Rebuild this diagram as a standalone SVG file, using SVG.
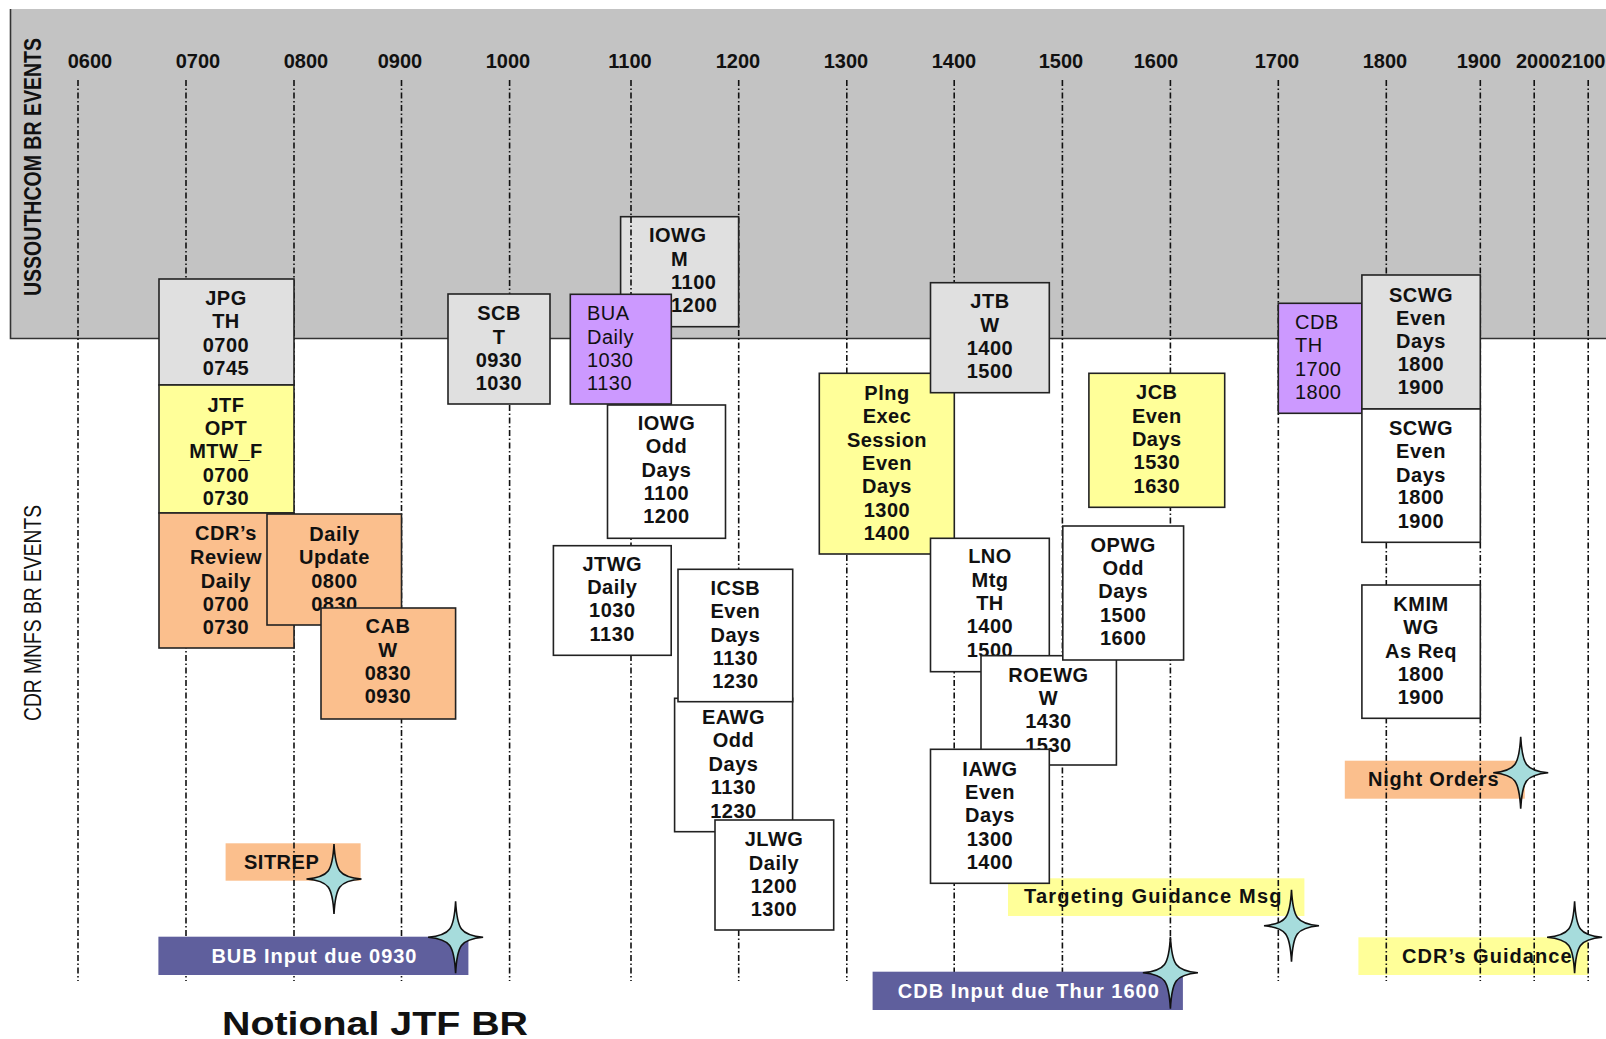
<svg xmlns="http://www.w3.org/2000/svg" width="1606" height="1039" viewBox="0 0 1606 1039">
<defs>
<style>
text{font-family:"Liberation Sans",Arial,sans-serif;fill:#111}
.b{font-weight:bold;font-size:20px;letter-spacing:0.5px;text-anchor:middle}
.bs{font-weight:bold;font-size:20px;letter-spacing:0.5px}
.r{font-size:20px;letter-spacing:0.5px}
.t{font-weight:bold;font-size:20px;text-anchor:middle}
.w{fill:#fff;font-weight:bold;font-size:20px}
.box{stroke:#222;stroke-width:1.6}
.gray{fill:#e0e0e0}
.white{fill:#fff}
.yel{fill:#ffff99}
.org{fill:#fbbf8d}
.pur{fill:#cc99ff}
.blu{fill:#5f5f9d}
.grid{stroke:#111;stroke-width:1.6;stroke-dasharray:6 2.5 1.5 2.5;fill:none}
.side{font-size:23px}
</style>
<path id="star" d="M0,-36 C1.5,-8 5,-2 27.5,0 C5,2 1.5,8 0,36 C-1.5,8 -5,2 -27.5,0 C-5,-2 -1.5,-8 0,-36Z" fill="#a6dcdc" stroke="#111" stroke-width="1.6"/>
</defs>

<g id="band">
<rect x="10" y="9" width="1596" height="329" fill="#c3c3c3"/>
<path d="M10.5,9 V338.5 H1606" fill="none" stroke="#333" stroke-width="1.6"/>
</g>

<g id="side-labels">
<text class="side" font-weight="bold" transform="translate(41,167) rotate(-90)" text-anchor="middle" textLength="258" lengthAdjust="spacingAndGlyphs">USSOUTHCOM  BR EVENTS</text>
<text class="side" transform="translate(41,613) rotate(-90)" text-anchor="middle" textLength="216" lengthAdjust="spacingAndGlyphs">CDR MNFS BR EVENTS</text>
</g>

<g id="time-labels">
<text class="t" x="90" y="68">0600</text>
<text class="t" x="198" y="68">0700</text>
<text class="t" x="306" y="68">0800</text>
<text class="t" x="400" y="68">0900</text>
<text class="t" x="508" y="68">1000</text>
<text class="t" x="630" y="68">1100</text>
<text class="t" x="738" y="68">1200</text>
<text class="t" x="846" y="68">1300</text>
<text class="t" x="954" y="68">1400</text>
<text class="t" x="1061" y="68">1500</text>
<text class="t" x="1156" y="68">1600</text>
<text class="t" x="1277" y="68">1700</text>
<text class="t" x="1385" y="68">1800</text>
<text class="t" x="1479" y="68">1900</text>
<text x="1516" y="68" font-weight="bold" font-size="20">2000</text>
<text x="1561" y="68" font-weight="bold" font-size="20">2100</text>
</g>

<g id="sitrep">
<rect class="org" x="225.6" y="843.3" width="135" height="37.4"/>
<text class="bs" x="244" y="869.3">SITREP</text>
</g>
<g id="targeting">
<rect class="yel" x="1008" y="878.3" width="296.4" height="37.7"/>
<text class="bs" x="1024" y="903.3" textLength="258">Targeting Guidance Msg</text>
</g>
<g id="night-orders">
<rect class="org" x="1344.8" y="760.7" width="180" height="38"/>
<text class="bs" x="1368" y="786" textLength="131">Night Orders</text>
</g>
<g id="cdr-guidance">
<rect class="yel" x="1358.4" y="937.3" width="229.8" height="37.7"/>
<text class="bs" x="1402" y="963.3" textLength="170">CDR’s Guidance</text>
</g>

<g id="connectors">
<path class="grid" d="M78,80V981 M186,80V981 M294,80V981 M401.5,80V981 M509.6,80V981 M631,80V981 M738.7,80V981 M846.8,80V981 M954.2,80V981 M1062.4,80V981 M1170.4,80V981 M1278.3,80V981 M1386.3,80V981 M1480.3,80V981 M1534.2,80V981 M1588.2,80V981"/>
</g>

<g id="jpg">
<rect class="box gray" x="159" y="279" width="135" height="106"/>
<text class="b"><tspan x="226" y="305">JPG</tspan><tspan x="226" y="328">TH</tspan><tspan x="226" y="352">0700</tspan><tspan x="226" y="375">0745</tspan></text>
</g>
<g id="jtf-opt">
<rect class="box yel" x="159" y="385" width="135" height="128"/>
<text class="b"><tspan x="226" y="412">JTF</tspan><tspan x="226" y="435">OPT</tspan><tspan x="226" y="458">MTW_F</tspan><tspan x="226" y="481.5">0700</tspan><tspan x="226" y="505">0730</tspan></text>
</g>
<g id="cdr-review">
<rect class="box org" x="159" y="513" width="135" height="135"/>
<text class="b"><tspan x="226" y="540">CDR’s</tspan><tspan x="226" y="564">Review</tspan><tspan x="226" y="587.5">Daily</tspan><tspan x="226" y="611">0700</tspan><tspan x="226" y="634">0730</tspan></text>
</g>
<g id="daily-update">
<rect class="box org" x="267" y="514" width="134.5" height="111"/>
<text class="b"><tspan x="334.5" y="541">Daily</tspan><tspan x="334.5" y="564">Update</tspan><tspan x="334.5" y="588">0800</tspan><tspan x="334.5" y="611">0830</tspan></text>
</g>
<g id="cab">
<rect class="box org" x="321" y="608" width="134.6" height="111"/>
<text class="b"><tspan x="388" y="633">CAB</tspan><tspan x="388" y="656.7">W</tspan><tspan x="388" y="680">0830</tspan><tspan x="388" y="703">0930</tspan></text>
</g>
<g id="scb">
<rect class="box gray" x="448" y="294" width="102" height="110"/>
<text class="b"><tspan x="499" y="320">SCB</tspan><tspan x="499" y="343.5">T</tspan><tspan x="499" y="367">0930</tspan><tspan x="499" y="390">1030</tspan></text>
</g>
<g id="iowg-m">
<rect class="box gray" x="620.6" y="216.7" width="118" height="110"/>
<path class="grid" d="M631,217V326"/>
<text class="bs"><tspan x="649" y="242">IOWG</tspan><tspan x="671" y="266">M</tspan><tspan x="671" y="289">1100</tspan><tspan x="671" y="312">1200</tspan></text>
</g>
<g id="bua">
<rect class="box pur" x="570.3" y="294.3" width="101" height="109.7"/>
<text class="r"><tspan x="587" y="320">BUA</tspan><tspan x="587" y="343.5">Daily</tspan><tspan x="587" y="367">1030</tspan><tspan x="587" y="390">1130</tspan></text>
</g>
<g id="iowg-odd">
<rect class="box white" x="607.5" y="405" width="118" height="133.3"/>
<text class="b"><tspan x="666.5" y="430">IOWG</tspan><tspan x="666.5" y="453.3">Odd</tspan><tspan x="666.5" y="476.7">Days</tspan><tspan x="666.5" y="500">1100</tspan><tspan x="666.5" y="523.3">1200</tspan></text>
</g>
<g id="jtwg">
<rect class="box white" x="553.4" y="545.7" width="117.8" height="109.6"/>
<text class="b"><tspan x="612.3" y="570.7">JTWG</tspan><tspan x="612.3" y="594.3">Daily</tspan><tspan x="612.3" y="617.3">1030</tspan><tspan x="612.3" y="640.7">1130</tspan></text>
</g>
<g id="eawg">
<rect class="box white" x="674.6" y="698.3" width="118" height="133.4"/>
<text class="b"><tspan x="733.5" y="724">EAWG</tspan><tspan x="733.5" y="747.3">Odd</tspan><tspan x="733.5" y="771">Days</tspan><tspan x="733.5" y="794.3">1130</tspan><tspan x="733.5" y="817.7">1230</tspan></text>
</g>
<g id="icsb">
<rect class="box white" x="678" y="569.3" width="114.7" height="132.4"/>
<text class="b"><tspan x="735.4" y="595">ICSB</tspan><tspan x="735.4" y="618.3">Even</tspan><tspan x="735.4" y="641.7">Days</tspan><tspan x="735.4" y="665">1130</tspan><tspan x="735.4" y="688.3">1230</tspan></text>
</g>
<g id="jlwg">
<rect class="box white" x="715" y="820" width="118.7" height="110"/>
<text class="b"><tspan x="774" y="845.7">JLWG</tspan><tspan x="774" y="870">Daily</tspan><tspan x="774" y="892.7">1200</tspan><tspan x="774" y="916">1300</tspan></text>
</g>
<g id="plng">
<rect class="box yel" x="819.3" y="373.3" width="135" height="180.7"/>
<text class="b"><tspan x="887" y="400">Plng</tspan><tspan x="887" y="423.3">Exec</tspan><tspan x="887" y="446.7">Session</tspan><tspan x="887" y="470">Even</tspan><tspan x="887" y="493.3">Days</tspan><tspan x="887" y="516.7">1300</tspan><tspan x="887" y="540">1400</tspan></text>
</g>
<g id="jtb">
<rect class="box gray" x="930.5" y="282.7" width="118.8" height="110"/>
<text class="b"><tspan x="990" y="308">JTB</tspan><tspan x="990" y="331.7">W</tspan><tspan x="990" y="355">1400</tspan><tspan x="990" y="378.3">1500</tspan></text>
</g>
<g id="lno">
<rect class="box white" x="930.5" y="538.3" width="118.8" height="133.4"/>
<text class="b"><tspan x="990" y="563.3">LNO</tspan><tspan x="990" y="586.7">Mtg</tspan><tspan x="990" y="610">TH</tspan><tspan x="990" y="633.3">1400</tspan><tspan x="990" y="656.7">1500</tspan></text>
</g>
<g id="roewg">
<rect class="box white" x="981" y="655.7" width="135.4" height="109.3"/>
<text class="b"><tspan x="1048.5" y="681.7">ROEWG</tspan><tspan x="1048.5" y="705">W</tspan><tspan x="1048.5" y="728.3">1430</tspan><tspan x="1048.5" y="751.7">1530</tspan></text>
</g>
<g id="iawg">
<rect class="box white" x="930.5" y="749.3" width="118.8" height="134"/>
<text class="b"><tspan x="990" y="775.7">IAWG</tspan><tspan x="990" y="799">Even</tspan><tspan x="990" y="822.3">Days</tspan><tspan x="990" y="845.7">1300</tspan><tspan x="990" y="869">1400</tspan></text>
</g>
<g id="opwg">
<rect class="box white" x="1062.8" y="526" width="120.8" height="134"/>
<text class="b"><tspan x="1123.2" y="551.7">OPWG</tspan><tspan x="1123.2" y="575">Odd</tspan><tspan x="1123.2" y="598.3">Days</tspan><tspan x="1123.2" y="621.7">1500</tspan><tspan x="1123.2" y="645">1600</tspan></text>
</g>
<g id="jcb">
<rect class="box yel" x="1088.9" y="373.3" width="135.8" height="134"/>
<text class="b"><tspan x="1156.8" y="399.3">JCB</tspan><tspan x="1156.8" y="422.7">Even</tspan><tspan x="1156.8" y="446">Days</tspan><tspan x="1156.8" y="469.3">1530</tspan><tspan x="1156.8" y="492.7">1630</tspan></text>
</g>
<g id="cdb">
<rect class="box pur" x="1278.3" y="303.3" width="83.6" height="110"/>
<text class="r"><tspan x="1295" y="329">CDB</tspan><tspan x="1295" y="352">TH</tspan><tspan x="1295" y="375.7">1700</tspan><tspan x="1295" y="399">1800</tspan></text>
</g>
<g id="scwg-1">
<rect class="box gray" x="1361.9" y="275" width="118.4" height="134"/>
<text class="b"><tspan x="1421" y="301.7">SCWG</tspan><tspan x="1421" y="325">Even</tspan><tspan x="1421" y="348">Days</tspan><tspan x="1421" y="371">1800</tspan><tspan x="1421" y="394.3">1900</tspan></text>
</g>
<g id="scwg-2">
<rect class="box white" x="1361.9" y="409" width="118.4" height="133.3"/>
<text class="b"><tspan x="1421" y="435">SCWG</tspan><tspan x="1421" y="458.3">Even</tspan><tspan x="1421" y="481.7">Days</tspan><tspan x="1421" y="504.3">1800</tspan><tspan x="1421" y="527.7">1900</tspan></text>
</g>
<g id="kmim">
<rect class="box white" x="1361.9" y="585" width="118.4" height="133.3"/>
<text class="b"><tspan x="1421" y="610.7">KMIM</tspan><tspan x="1421" y="634">WG</tspan><tspan x="1421" y="657.7">As Req</tspan><tspan x="1421" y="680.7">1800</tspan><tspan x="1421" y="704">1900</tspan></text>
</g>

<g id="bub-input">
<rect class="blu" x="158.4" y="936.7" width="310" height="38.3"/>
<text class="w" x="211.4" y="963.3" textLength="205">BUB Input due 0930</text>
</g>
<g id="cdb-input">
<rect class="blu" x="872.6" y="971.7" width="310.3" height="38.3"/>
<text class="w" x="897.8" y="997.7" textLength="261">CDB Input due Thur 1600</text>
</g>

<g id="stars">
<use href="#star" transform="translate(334,879) scale(1,0.97)"/>
<use href="#star" transform="translate(455.6,937.3)"/>
<use href="#star" transform="translate(1291.5,925.7)"/>
<use href="#star" transform="translate(1170.4,972.7)"/>
<use href="#star" transform="translate(1520.7,772.7)"/>
<use href="#star" transform="translate(1574.6,937.3)"/>
</g>

<g id="title">
<text x="222" y="1035" font-weight="bold" font-size="33" textLength="306" lengthAdjust="spacingAndGlyphs">Notional JTF BR</text>
</g>
</svg>
